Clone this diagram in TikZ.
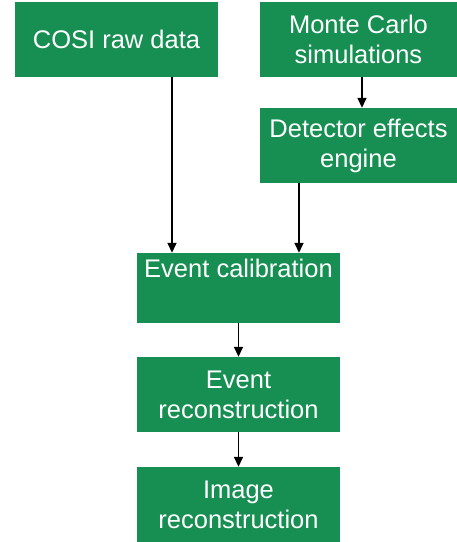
\documentclass[tikz,border=0pt]{standalone}
\usepackage{fontspec}
\setmainfont{Liberation Sans}
\usetikzlibrary{arrows.meta}
\definecolor{boxgreen}{RGB}{23,143,82}
\begin{document}
\begin{tikzpicture}[x=1pt,y=-1pt,
  box/.style={fill=boxgreen,draw=none,text=white,align=center,inner sep=0pt,
    font=\fontsize{25.5}{30}\selectfont},
  arr/.style={draw=black,line width=1.5pt,-{Triangle[length=10pt,width=9pt]}}]
\useasboundingbox (0,0) rectangle (457,542);
\node[box,minimum width=203pt,minimum height=75pt] (cosi) at (116.5,39.5) {COSI raw data};
\node[box,minimum width=197pt,minimum height=75pt] (mc) at (358.5,39.5) {Monte Carlo\\simulations};
\node[box,minimum width=197pt,minimum height=75pt] (det) at (358.5,145.5) {Detector effects\\engine};
\node[box,minimum width=203pt,minimum height=70pt] (ec) at (238.5,288) {Event calibration\\\strut};
\node[box,minimum width=203pt,minimum height=75pt] (er) at (238.5,394.5) {Event\\reconstruction};
\node[box,minimum width=203pt,minimum height=75pt] (ir) at (238.5,504.5) {Image\\reconstruction};
\coordinate (c1) at (172,77);
\coordinate (c2) at (299,183);
\draw[arr] (c1) -- (c1 |- ec.north);
\draw[arr] (c2) -- (c2 |- ec.north);
\draw[arr] (mc.south -| 362,0) -- (det.north -| 362,0);
\draw[arr] (ec.south) -- (er.north);
\draw[arr] (er.south) -- (ir.north);
\end{tikzpicture}
\end{document}
